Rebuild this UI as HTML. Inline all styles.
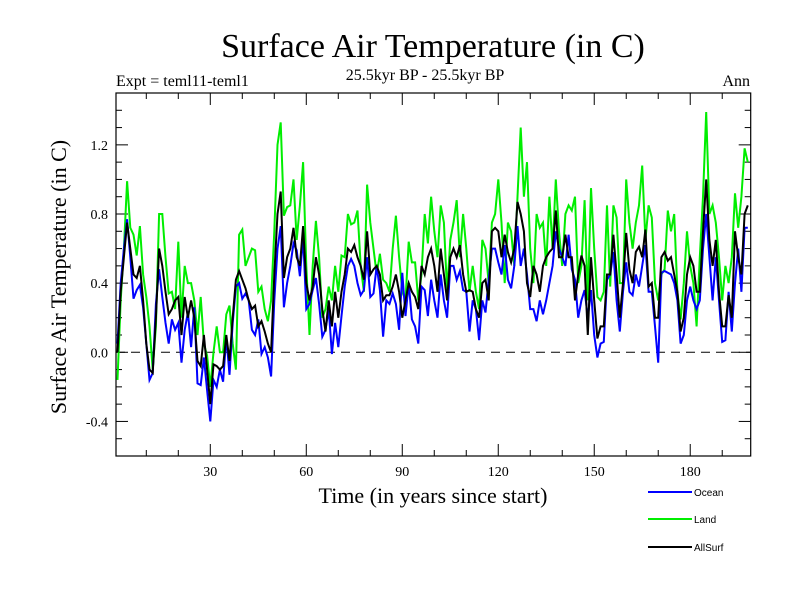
<!DOCTYPE html>
<html><head><meta charset="utf-8"><style>
body{margin:0;background:#fff;}
svg text{font-family:"Liberation Serif",serif;}
</style></head><body>
<svg id="chart" width="800" height="600" xmlns="http://www.w3.org/2000/svg">
<rect width="800" height="600" fill="#fff"/>
<text x="433" y="57" font-size="34" text-anchor="middle">Surface Air Temperature (in C)</text>
<text x="116" y="86" font-size="16">Expt = teml11-teml1</text>
<text x="425" y="80" font-size="16" text-anchor="middle">25.5kyr BP - 25.5kyr BP</text>
<text x="750" y="86" font-size="16" text-anchor="end">Ann</text>
<text transform="translate(66,277) rotate(-90)" font-size="22" text-anchor="middle">Surface Air Temperature (in C)</text>
<text x="433" y="503" font-size="22" text-anchor="middle">Time (in years since start)</text>
<g id="axes"></g>
<g id="series"></g>
<g id="legend"></g>
</svg>
<script>
const years = Array.from({length:198},(_, i)=>i+1);
const ocean = [0.05,0.4,0.6,0.77,0.55,0.31,0.36,0.39,0.26,0.05,-0.16,-0.12,0.28,0.48,0.32,0.17,0.05,0.19,0.13,0.17,-0.06,0.13,0.23,0.03,0.26,-0.18,-0.19,-0.03,-0.22,-0.4,-0.16,-0.2,-0.1,-0.17,0.09,-0.13,0.17,0.38,0.4,0.31,0.34,0.3,0.13,0.1,0.19,-0.01,0.03,-0.03,-0.14,0.3,0.6,0.73,0.26,0.4,0.5,0.63,0.59,0.44,0.67,0.25,0.28,0.36,0.43,0.28,0.09,0.13,0.25,-0.01,0.17,0.03,0.21,0.38,0.5,0.54,0.5,0.4,0.33,0.36,0.55,0.32,0.34,0.5,0.36,0.09,0.3,0.28,0.34,0.28,0.13,0.46,0.21,0.4,0.19,0.15,0.05,0.38,0.36,0.21,0.42,0.3,0.2,0.45,0.3,0.2,0.5,0.5,0.42,0.47,0.36,0.35,0.12,0.3,0.25,0.07,0.3,0.23,0.42,0.6,0.6,0.52,0.45,0.62,0.42,0.37,0.5,0.73,0.5,0.6,0.45,0.25,0.25,0.18,0.3,0.22,0.3,0.4,0.5,0.7,0.6,0.55,0.5,0.68,0.48,0.42,0.2,0.3,0.36,0.2,0.36,0.1,-0.03,0.05,0.06,0.42,0.45,0.58,0.3,0.12,0.35,0.52,0.35,0.33,0.45,0.38,0.5,0.62,0.35,0.35,0.15,-0.06,0.46,0.47,0.46,0.45,0.4,0.3,0.05,0.1,0.3,0.38,0.3,0.25,0.3,0.6,0.8,0.55,0.3,0.55,0.3,0.06,0.07,0.35,0.12,0.4,0.6,0.35,0.72,0.72];
const land = [-0.16,0.3,0.6,0.99,0.72,0.68,0.56,0.73,0.45,0.32,0.15,-0.1,0.15,0.8,0.8,0.55,0.34,0.35,0.25,0.64,0.2,0.5,0.4,0.4,0.3,0.1,0.32,0.05,-0.02,-0.2,0.0,0.15,0.0,0.0,0.22,0.27,0.05,-0.1,0.68,0.71,0.5,0.55,0.6,0.59,0.35,0.38,0.25,0.18,0.3,0.7,1.2,1.33,0.79,0.84,0.85,1.0,0.65,0.85,1.1,0.5,0.1,0.5,0.76,0.55,0.2,0.25,0.38,0.3,0.5,0.35,0.56,0.55,0.8,0.74,0.75,0.82,0.5,0.35,0.97,0.75,0.6,0.45,0.57,0.42,0.4,0.35,0.6,0.79,0.55,0.35,0.3,0.64,0.52,0.52,0.3,0.45,0.8,0.63,0.9,0.7,0.55,0.85,0.75,0.35,0.65,0.75,0.88,0.55,0.8,0.6,0.35,0.5,0.35,0.25,0.65,0.6,0.4,0.75,0.8,1.0,0.75,0.4,0.75,0.7,0.5,0.9,1.3,0.9,1.1,0.6,0.4,0.8,0.72,0.75,0.5,0.9,0.6,1.0,0.7,0.5,0.8,0.85,0.82,0.9,0.4,0.5,0.88,0.3,0.95,0.6,0.32,0.3,0.35,0.85,0.38,0.85,0.78,0.4,0.4,1.0,0.75,0.6,0.75,0.85,1.08,0.65,0.85,0.78,0.4,0.3,0.45,0.48,0.82,0.7,0.8,0.35,0.19,0.4,0.7,0.5,0.4,0.15,0.55,0.9,1.39,0.8,0.85,0.75,0.55,0.3,0.5,0.4,0.55,0.92,0.72,0.9,1.18,1.1];
const allsurf = [0.0,0.35,0.55,0.75,0.6,0.45,0.43,0.5,0.3,0.05,-0.1,-0.12,0.2,0.6,0.5,0.35,0.22,0.25,0.3,0.32,0.1,0.32,0.2,0.3,0.2,-0.05,-0.08,0.1,-0.1,-0.3,-0.07,-0.08,-0.1,-0.08,0.1,-0.05,0.2,0.42,0.47,0.42,0.37,0.3,0.25,0.27,0.15,0.18,0.12,0.05,0.0,0.45,0.8,0.93,0.43,0.55,0.6,0.72,0.55,0.5,0.73,0.4,0.3,0.38,0.55,0.45,0.25,0.12,0.3,0.15,0.35,0.2,0.35,0.45,0.6,0.58,0.62,0.55,0.5,0.42,0.7,0.45,0.48,0.5,0.45,0.3,0.33,0.33,0.38,0.45,0.35,0.2,0.3,0.4,0.35,0.32,0.25,0.5,0.45,0.55,0.6,0.5,0.35,0.6,0.45,0.3,0.55,0.6,0.55,0.62,0.45,0.35,0.36,0.35,0.25,0.2,0.4,0.42,0.3,0.7,0.72,0.7,0.55,0.68,0.58,0.52,0.6,0.87,0.8,0.7,0.4,0.32,0.5,0.45,0.35,0.5,0.55,0.58,0.6,0.82,0.55,0.55,0.68,0.55,0.55,0.3,0.45,0.56,0.5,0.1,0.55,0.3,0.08,0.15,0.15,0.45,0.45,0.68,0.45,0.2,0.4,0.69,0.48,0.4,0.58,0.61,0.55,0.71,0.38,0.4,0.2,0.2,0.55,0.58,0.53,0.55,0.45,0.35,0.12,0.2,0.45,0.55,0.5,0.35,0.35,0.7,1.0,0.65,0.5,0.65,0.35,0.15,0.15,0.33,0.2,0.7,0.55,0.45,0.8,0.85];
const xTickLabels = [30,60,90,120,150,180];
const yTickLabels = [-0.4,0.0,0.4,0.8,1.2];

const NS='http://www.w3.org/2000/svg';
const L=116,R=750.7,T=93,B=456;
const xMin=0.53,xMax=198.9,yMin=-0.6,yMax=1.5;
const xs=v=>L+(v-xMin)/(xMax-xMin)*(R-L);
const ys=v=>B-(v-yMin)/(yMax-yMin)*(B-T);
function mk(tag,attrs,parent){const e=document.createElementNS(NS,tag);for(const k in attrs)e.setAttribute(k,attrs[k]);parent.appendChild(e);return e;}
const axes=document.getElementById('axes');
const frame=mk('rect',{x:L,y:T,width:R-L,height:B-T,fill:'none',stroke:'#000','stroke-width':1.2},axes);


const zero=mk('line',{x1:L,x2:R,y1:ys(0),y2:ys(0),stroke:'#000','stroke-dasharray':'9,6','stroke-width':1},axes);


for(let v=10;v<=190;v+=10){
  const major=v%30===0, len=major?12:6;
  mk('line',{x1:xs(v),x2:xs(v),y1:B,y2:B-len,stroke:'#000'},axes);
  mk('line',{x1:xs(v),x2:xs(v),y1:T,y2:T+len,stroke:'#000'},axes);
}
for(let i=-5;i<=14;i++){
  const v=i/10, major=(i%4===0), len=major?12:6;
  mk('line',{x1:L,x2:L+len,y1:ys(v),y2:ys(v),stroke:'#000'},axes);
  mk('line',{x1:R,x2:R-len,y1:ys(v),y2:ys(v),stroke:'#000'},axes);
}
xTickLabels.forEach(v=>{
  const t=mk('text',{x:xs(v),y:B+20,'font-size':14,'text-anchor':'middle'},axes);t.textContent=v;
  
  
});
yTickLabels.forEach(v=>{
  const t=mk('text',{x:L-8,y:ys(v)+5,'font-size':14,'text-anchor':'end'},axes);t.textContent=v.toFixed(1);
  
  
});
const series=document.getElementById('series');
[[ocean,'#0000ff','ocean-line'],[land,'#00ee00','land-line'],[allsurf,'#000000','allsurf-line']].forEach(([d,c,n])=>{
  const p=mk('polyline',{points:d.map((v,i)=>xs(years[i]).toFixed(1)+','+ys(v).toFixed(1)).join(' '),fill:'none',stroke:c,'stroke-width':2},series);
  
  
});
series.insertBefore(series.children[1],series.children[0]);
const legend=document.getElementById('legend');
[['Ocean','#0000ff',492],['Land','#00ee00',519],['AllSurf','#000000',547]].forEach(([n,c,y])=>{
  const g=mk('g',{},legend);
  
  
  mk('line',{x1:648,x2:692,y1:y,y2:y,stroke:c,'stroke-width':2},g);
  const t=mk('text',{x:694,y:y+4,'font-size':10},g);
  t.setAttribute('style','font-family:"Liberation Sans",sans-serif');
  t.textContent=n;
});
</script>
</body></html>
